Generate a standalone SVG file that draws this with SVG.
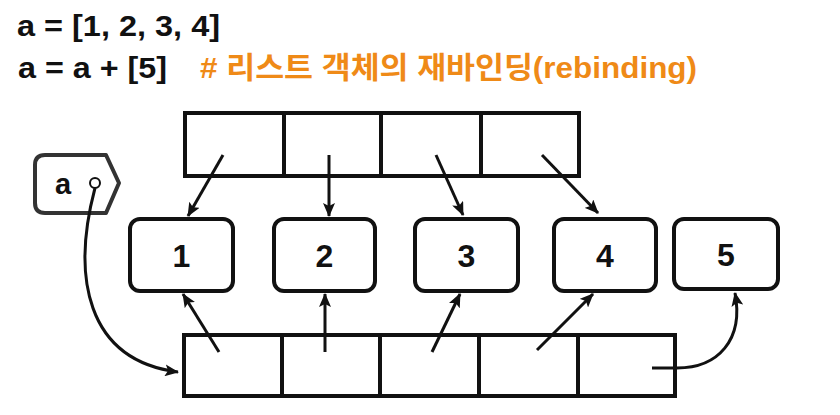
<svg xmlns="http://www.w3.org/2000/svg" width="840" height="415" viewBox="0 0 840 415">
<style>
.code{font-family:"Liberation Sans","Noto Sans CJK KR",Arial,sans-serif;font-weight:bold;font-size:30px;fill:#111}
.cmt{font-family:"Liberation Sans","Noto Sans CJK KR",sans-serif;font-weight:bold;font-size:30px;fill:#EF8A17}
.box{fill:#fff;stroke:#111;stroke-width:4}
.cell{fill:#fff;stroke:#111;stroke-width:4}
.div{stroke:#111;stroke-width:4}
.num{font-family:"Liberation Sans",Arial,sans-serif;font-weight:bold;font-size:32px;fill:#111;text-anchor:middle}
.conn{fill:none;stroke:#111;stroke-width:3;marker-end:url(#ah)}
</style>
<defs>
<marker id="ah" markerWidth="14" markerHeight="12" refX="13" refY="6" orient="auto" markerUnits="userSpaceOnUse">
<path d="M0,0 L14,6 L0,12 L3,6 Z" fill="#111"/>
</marker>
</defs>
<rect width="840" height="415" fill="#fff"/>
<g id="code">
<text class="code" x="17" y="36" textLength="203" lengthAdjust="spacingAndGlyphs">a = [1, 2, 3, 4]</text>
<text class="code" x="18" y="78" textLength="149" lengthAdjust="spacingAndGlyphs">a = a + [5]</text>
<text class="cmt" x="200" y="78" textLength="497" lengthAdjust="spacingAndGlyphs"># 리스트 객체의 재바인딩(rebinding)</text>
</g>
<g id="tag-a">
<path d="M45,155 H106 L119,183 L106,213 H45 Q35,213 35,203 V165 Q35,155 45,155 Z" fill="#fff" stroke="#333" stroke-width="4" stroke-linejoin="round"/>
<text class="num" x="63" y="194" style="font-size:29px">a</text>
<circle cx="95" cy="183" r="5" fill="#fff" stroke="#111" stroke-width="2"/>
</g>
<g id="list-old">
<rect class="cell" x="185" y="113" width="394" height="63"/>
<line class="div" x1="284" y1="113" x2="284" y2="176"/>
<line class="div" x1="381" y1="113" x2="381" y2="176"/>
<line class="div" x1="481" y1="113" x2="481" y2="176"/>
</g>
<g id="list-new">
<rect class="cell" x="184" y="335" width="491" height="61"/>
<line class="div" x1="282" y1="335" x2="282" y2="396"/>
<line class="div" x1="380" y1="335" x2="380" y2="396"/>
<line class="div" x1="479" y1="335" x2="479" y2="396"/>
<line class="div" x1="578" y1="335" x2="578" y2="396"/>
</g>
<g id="obj1"><rect class="box" x="130" y="219" width="103" height="72" rx="10"/><text class="num" x="181.5" y="267">1</text></g>
<g id="obj2"><rect class="box" x="274" y="219" width="101" height="72" rx="10"/><text class="num" x="324.5" y="267">2</text></g>
<g id="obj3"><rect class="box" x="415" y="219" width="103" height="72" rx="10"/><text class="num" x="466.5" y="267">3</text></g>
<g id="obj4"><rect class="box" x="554" y="219" width="102" height="72" rx="10"/><text class="num" x="605" y="267">4</text></g>
<g id="obj5"><rect class="box" x="674" y="219" width="104" height="70" rx="10"/><text class="num" x="726" y="266">5</text></g>
<g id="connectors">
<path class="conn" d="M223,155 L188,216"/>
<path class="conn" d="M329,155 L329,216"/>
<path class="conn" d="M436,155 L463,215"/>
<path class="conn" d="M542,155 L598,213"/>
<path class="conn" d="M219,352 L183,294"/>
<path class="conn" d="M325,352 L325,294"/>
<path class="conn" d="M432,352 L460,294"/>
<path class="conn" d="M537,350 L593,294"/>
<path class="conn" d="M652,368 L677,368 C718,368 744,340 735,293"/>
<path class="conn" d="M95,188 C72,275 85,360 178,372"/>
</g>
</svg>
